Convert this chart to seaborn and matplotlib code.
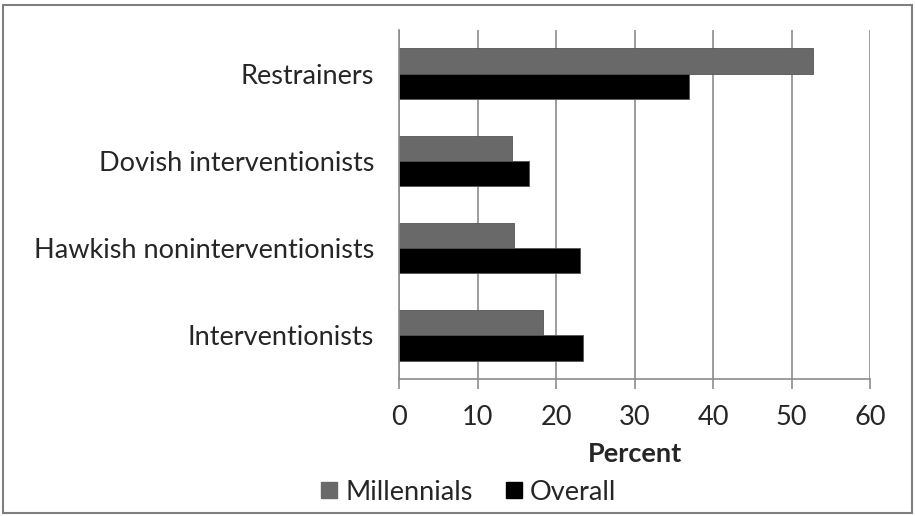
import pandas as pd
import numpy as np
import matplotlib.pyplot as plt
import seaborn as sns
from matplotlib.patches import Rectangle
from matplotlib.lines import Line2D

categories = ['Restrainers', 'Dovish interventionists',
              'Hawkish noninterventionists', 'Interventionists']
millennials = [52.8, 14.4, 14.6, 18.4]
overall = [36.9, 16.5, 23.1, 23.5]
series = ['Millennials', 'Overall']
x_ticks = [0, 10, 20, 30, 40, 50, 60]

df = pd.DataFrame({
    'category': categories * 2,
    'value': millennials + overall,
    'series': ['Millennials'] * 4 + ['Overall'] * 4,
})

sns.set_style('white')
plt.rcParams['font.family'] = ['Lato', 'DejaVu Sans']

fig = plt.figure(figsize=(9.15, 5.16), dpi=100)
ax = fig.add_axes([399 / 915, 1 - 379 / 516, 471 / 915, 349 / 516])

sns.barplot(data=df, y='category', x='value', hue='series', orient='h',
            palette={'Millennials': '#696969', 'Overall': '#000000'},
            width=0.58, ax=ax, legend=False, edgecolor='#555555', linewidth=0.6)

ax.set_xlim(0, 60)
ax.set_ylim(3.5, -0.5)
ax.set_xticks(x_ticks)
ax.set_xticklabels([str(t) for t in x_ticks], fontsize=19.5)
ax.xaxis.grid(True, color='#8c8c8c', linewidth=1.2)
ax.set_axisbelow(True)
ax.set_yticks(range(len(categories)))
ax.set_yticklabels(categories, fontsize=19.5)
ax.tick_params(axis='y', length=0, pad=18)
ax.set_yticks(np.arange(-0.5, len(categories), 1), minor=True)
ax.tick_params(axis='y', which='minor', length=7, color='#8c8c8c', width=1.2)
ax.tick_params(axis='x', length=7, color='#8c8c8c', width=1.2, pad=12,
               bottom=True)
ax.set_xlabel('Percent', fontsize=19.5, fontweight='bold', labelpad=8)
ax.set_ylabel('')
for s in ['top', 'right']:
    ax.spines[s].set_visible(False)
for s in ['left', 'bottom']:
    ax.spines[s].set_color('#8c8c8c')
    ax.spines[s].set_linewidth(1.2)

handles = [Line2D([0], [0], marker='s', color='w', markerfacecolor=c,
                  markeredgecolor=c, markersize=12)
           for c in ['#696969', '#000000']]
fig.legend(handles, series, loc='center', bbox_to_anchor=(466 / 915, 1 - 492 / 516),
           ncol=2, frameon=False, fontsize=19.5, handletextpad=0.1,
           columnspacing=1.0, handlelength=1.0)

fig.patches.append(Rectangle((3 / 915, 3 / 516), 909 / 915, 508 / 516,
                             transform=fig.transFigure, fill=False,
                             edgecolor='#7f7f7f', linewidth=1.5))

fig.savefig('out.png', dpi=100)
